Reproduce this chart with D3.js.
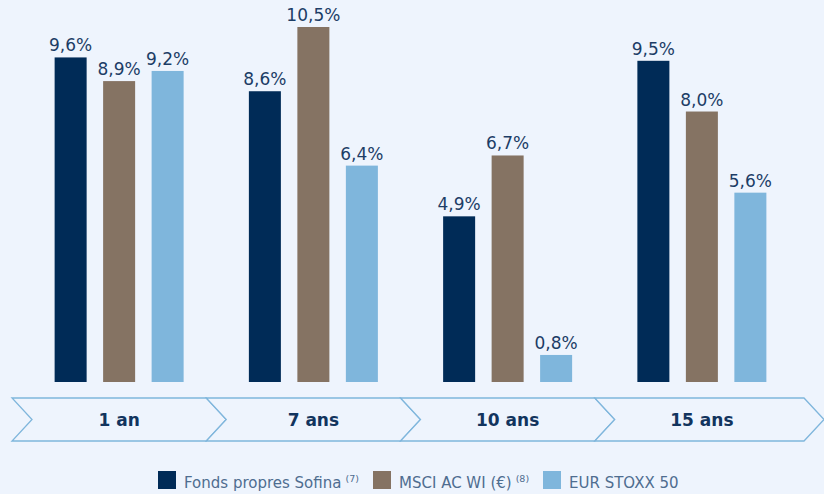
<!DOCTYPE html>
<html>
<head>
<meta charset="utf-8">
<script src="https://cdn.jsdelivr.net/npm/d3@7"></script>
<style>
  body { margin: 0; background: #eef4fd; }
  svg { display: block; font-family: "DejaVu Sans", Verdana, sans-serif; }
</style>
</head>
<body>
<div class="chart"></div>
<script>
const periods = ['1 an', '7 ans', '10 ans', '15 ans'];
const series = ['Fonds propres Sofina', 'MSCI AC WI (€)', 'EUR STOXX 50'];
const notes = ['(7)', '(8)', ''];
const sofina = [9.6, 8.6, 4.9, 9.5];
const msci = [8.9, 10.5, 6.7, 8.0];
const stoxx = [9.2, 6.4, 0.8, 5.6];
const colors = ['#002b57', '#857363', '#7fb6dc'];

const width = 824;
const height = 494;
const baseline = 382;

const svg = d3.select('.chart').append('svg').attr('width', width).attr('height', height);
svg.append('rect').attr('width', width).attr('height', height).attr('fill', '#eef4fd');

const x0 = d3.scaleBand().domain(periods).range([22, 799]);
const x1 = d3.scaleBand().domain(series).range([0, 129]).paddingInner(0.34);
const groupOffset = (x0.bandwidth() - 129) / 2;
const y = d3.scaleLinear().domain([0, 10.5]).range([baseline, 27]);

const values = [sofina, msci, stoxx];
const rows = [];
periods.forEach((p, i) => {
    series.forEach((s, j) => rows.push({ period: p, serie: s, value: values[j][i], color: colors[j] }));
});

const bars = svg.append('g');
bars.selectAll('rect').data(rows).enter().append('rect')
    .attr('x', d => x0(d.period) + groupOffset + x1(d.serie))
    .attr('y', d => y(d.value))
    .attr('width', x1.bandwidth())
    .attr('height', d => baseline - y(d.value))
    .attr('fill', d => d.color);

bars.selectAll('text').data(rows).enter().append('text')
    .attr('x', d => x0(d.period) + groupOffset + x1(d.serie) + x1.bandwidth() / 2)
    .attr('y', d => y(d.value) - 6)
    .attr('text-anchor', 'middle')
    .attr('font-size', 17)
    .attr('fill', '#1c3d66')
    .text(d => d.value.toFixed(1).replace('.', ',') + '%');

// chevron band under the bars
const bandTop = 398, bandBottom = 441, bandMid = (bandTop + bandBottom) / 2, tip = 20;
const band = svg.append('g');
periods.forEach((p, i) => {
    const left = x0(p) - 10;
    // the last chevron runs on to the page edge
    const right = x0(p) + x0.bandwidth() + (i === periods.length - 1 ? 5 : -10);
    const pts = [[left, bandTop], [right, bandTop], [right + tip, bandMid], [right, bandBottom], [left, bandBottom], [left + tip, bandMid]];
    band.append('path')
        .attr('d', d3.line()(pts) + 'Z')
        .attr('fill', '#eef4fd')
        .attr('stroke', '#7fb6dc')
        .attr('stroke-width', 1.3);
});
band.selectAll('text').data(periods).enter().append('text')
    .attr('x', d => x0(d) + x0.bandwidth() / 2)
    .attr('y', 426)
    .attr('text-anchor', 'middle')
    .attr('font-size', 17)
    .attr('font-weight', 'bold')
    .attr('fill', '#12345e')
    .text(d => d);

// legend
const legend = svg.append('g');
const legendX = [158, 373, 543];
series.forEach((s, i) => {
    const g = legend.append('g').attr('transform', `translate(${legendX[i]},471)`);
    g.append('rect').attr('width', 18).attr('height', 18).attr('fill', colors[i]);
    const t = g.append('text').attr('x', 26).attr('y', 17)
        .attr('font-size', 15).attr('fill', '#4f6d90');
    t.append('tspan').text(s);
    if (notes[i]) {
        t.append('tspan').attr('dx', 4).attr('dy', -6).attr('font-size', 9.5).text(notes[i]);
    }
});
</script>
</body>
</html>
